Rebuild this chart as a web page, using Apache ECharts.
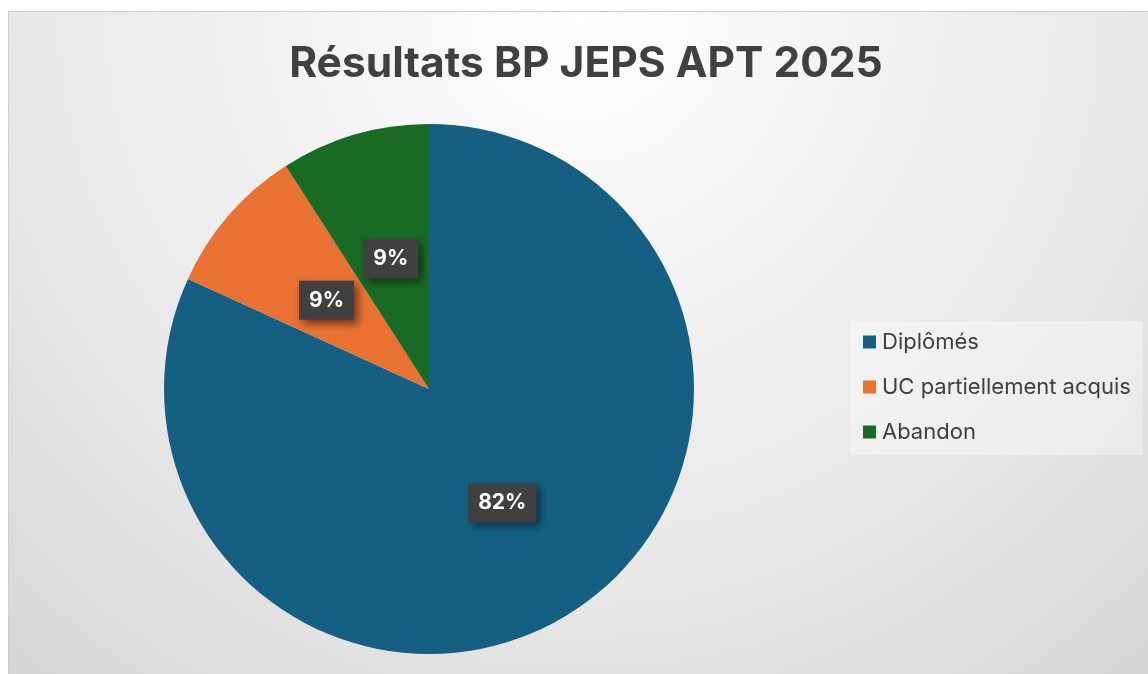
<!DOCTYPE html>
<html>
<head>
<meta charset="utf-8">
<script src="https://cdn.jsdelivr.net/npm/echarts@6/dist/echarts.min.js"></script>
<style>
  html, body { margin: 0; padding: 0; background: #fff; width: 1148px; height: 674px; overflow: hidden; }
  #chart {
    position: absolute; left: 8px; top: 11px; width: 1140px; height: 663px;
    border-left: 1px solid #cfcfcf; border-top: 1px solid #cfcfcf;
    background: radial-gradient(circle at 50% 0%, #ffffff 0px, #f4f4f4 250px, #e7e7e7 580px, #d4d4d4 900px);
  }
</style>
</head>
<body>
<div id="chart"></div>
<script>
// données
const categories = ['Diplômés', 'UC partiellement acquis', 'Abandon'];
const values = [9, 1, 1];
const colors = ['#156082', '#E97132', '#196B24'];
const titleText = 'Résultats BP JEPS APT 2025';

let chart = echarts.init(document.getElementById('chart'), null, { renderer: 'canvas' });

let pieData = [];
for (let i = 0; i < categories.length; i++) {
    pieData.push({ name: categories[i], value: values[i], itemStyle: { color: colors[i] } });
}

option = {
    animation: false,
    title: {
        text: titleText,
        left: 572,
        top: 26,
        textAlign: 'center',
        textStyle: { fontFamily: 'Inter', fontWeight: 'bold', fontSize: 42.5, color: '#404040' }
    },
    legend: {
        orient: 'vertical',
        left: 841,
        top: 309,
        padding: [10, 12, 12, 13],
        backgroundColor: 'rgba(255,255,255,0.35)',
        itemWidth: 13,
        itemHeight: 13,
        itemGap: 23,
        icon: 'rect',
        selectedMode: false,
        data: categories,
        textStyle: { fontFamily: 'Inter', fontSize: 22, color: '#404040', lineHeight: 22, padding: [0, 0, 0, 1] }
    },
    series: [
        {
            type: 'pie',
            center: [420, 377],
            radius: 265,
            startAngle: 90,
            clockwise: true,
            percentPrecision: 0,
            silent: true,
            itemStyle: { borderWidth: 0 },
            label: {
                show: true,
                position: 'inside',
                formatter: '{d}%',
                color: '#ffffff',
                fontFamily: 'Inter',
                fontWeight: 'bold',
                fontSize: 21,
                backgroundColor: '#404040',
                padding: [9, 10, 9, 10],
                shadowColor: 'rgba(0,0,0,0.5)',
                shadowBlur: 8,
                shadowOffsetX: 4,
                shadowOffsetY: 4
            },
            labelLine: { show: false },
            emphasis: { disabled: true },
            data: pieData
        }
    ]
};
chart.setOption(option);
</script>
</body>
</html>
